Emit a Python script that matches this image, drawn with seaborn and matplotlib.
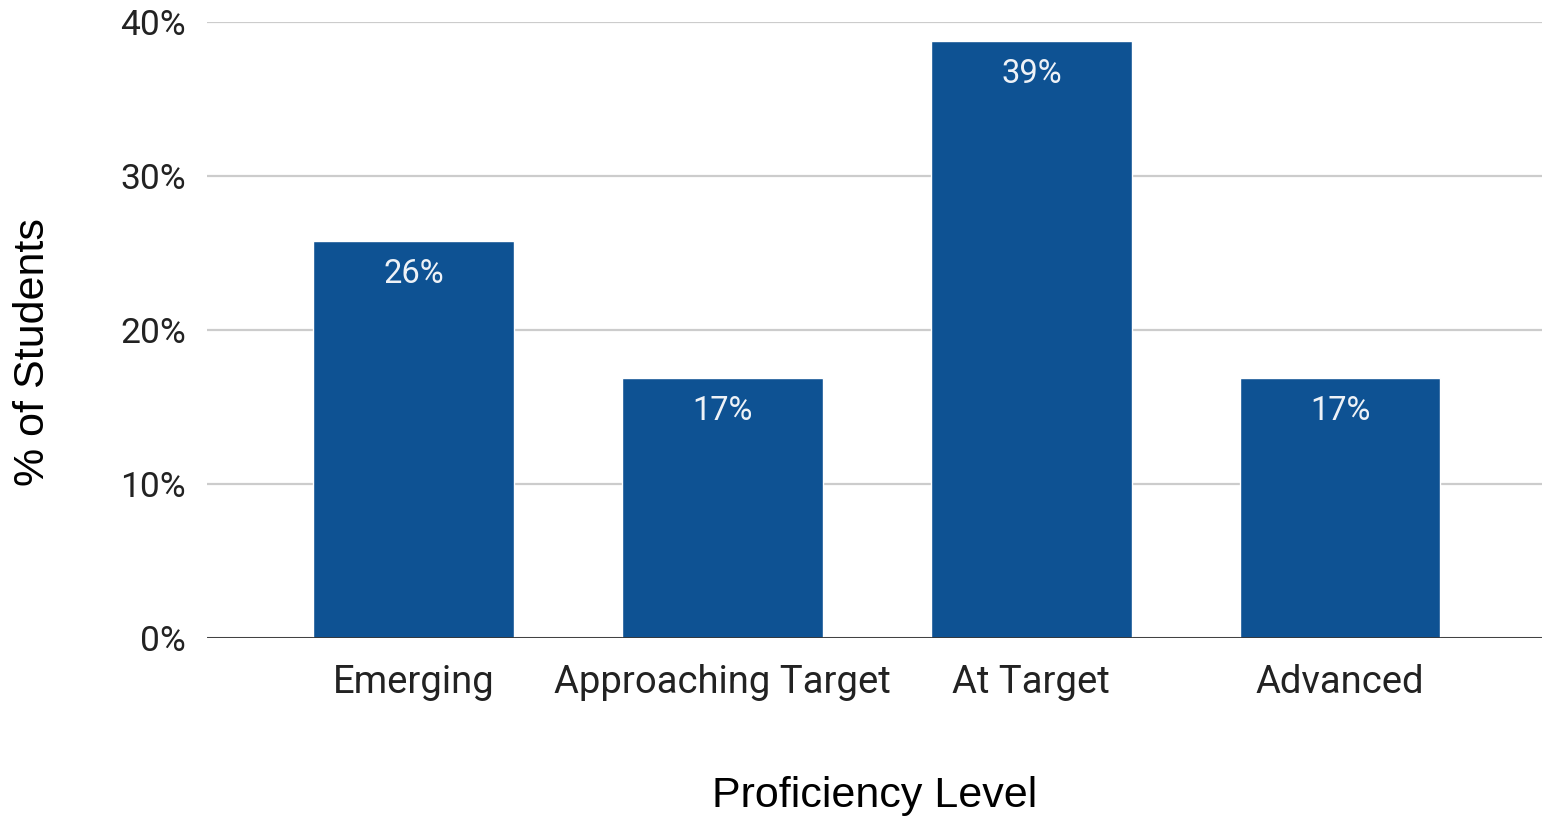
import seaborn as sns
import pandas as pd
import matplotlib.pyplot as plt
from matplotlib.ticker import FuncFormatter

levels = ["Emerging", "Approaching Target", "At Target", "Advanced"]
pct_students = [25.8, 16.9, 38.8, 16.9]
yticks = [0, 10, 20, 30, 40]

df = pd.DataFrame({"level": levels, "pct": pct_students})

sns.set_theme(style="white")
plt.rcParams['font.family'] = ['Roboto', 'DejaVu Sans']

fig = plt.figure(figsize=(15.42, 8.17), dpi=100)
ax = fig.add_axes([0.1342, 0.219, 0.8658, 0.754])

bar_color = "#0e5293"
sns.barplot(x="level", y="pct", data=df, color=bar_color, width=0.65,
            saturation=1, ax=ax, zorder=3)

for p, v in zip(ax.patches, pct_students):
    ax.annotate(f"{round(v)}%", (p.get_x() + p.get_width() / 2., p.get_height()),
                ha='center', va='center', fontsize=23.5, color='#eef2f7',
                xytext=(0, -24), textcoords='offset points', zorder=4)

ax.set_ylim(0, 40)
ax.set_xlim(-0.67, 3.654)
ax.set_yticks(yticks)
ax.yaxis.set_major_formatter(FuncFormatter(lambda v, pos: f"{v:.0f}%"))
ax.grid(axis="y", color="#cccccc", linewidth=1.6, zorder=0)
ax.axhline(0, color="#333333", linewidth=2, zorder=5)

for s in ax.spines.values():
    s.set_visible(False)

ax.tick_params(axis="y", labelsize=25.5, length=0, pad=15, colors="#222222")
ax.tick_params(axis="x", labelsize=27.5, length=0, pad=19, colors="#222222")

ax.set_xlabel("Proficiency Level", fontsize=31, family="Liberation Sans",
              color="black", va="center")
ax.xaxis.set_label_coords(0.5, -0.257)
ax.set_ylabel("% of Students", fontsize=31, family="Liberation Sans",
              color="black", va="center")
ax.yaxis.set_label_coords(-0.130, 0.464)

fig.savefig("out.png", dpi=100)
